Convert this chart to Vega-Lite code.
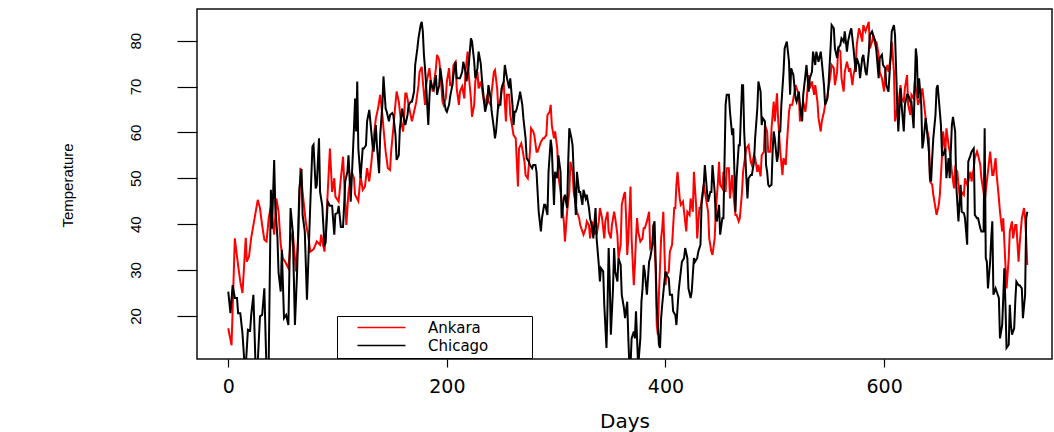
{
"$schema":"https://vega.github.io/schema/vega-lite/v6.json",
"width":855,"height":350,"autosize":"none",
"padding":{"left":197,"top":9,"right":2,"bottom":73},
"background":"white",
"config":{"view":{"stroke":"#111","strokeWidth":1.5},
"legend":{"orient":"none","legendX":140,"legendY":307,"strokeColor":"black","fillColor":"white","padding":4,"symbolType":"M-4,0H4","symbolSize":144,"symbolStrokeWidth":1.3,"symbolOffset":33,"labelOffset":39,"labelFontSize":15,"labelFont":"DejaVu Sans","labelColor":"black","rowPadding":2,"titleOrient":"right","titleFontSize":8,"titlePadding":40}},
"data":{"values":[
{"day":0,"city":"Ankara","temp":17.3},{"day":3,"city":"Ankara","temp":13.6},{"day":6,"city":"Ankara","temp":36.9},{"day":9,"city":"Ankara","temp":31},{"day":11,"city":"Ankara","temp":27.5},{"day":13,"city":"Ankara","temp":25},{"day":16,"city":"Ankara","temp":37},{"day":17,"city":"Ankara","temp":31.8},{"day":19,"city":"Ankara","temp":33},{"day":21,"city":"Ankara","temp":37},{"day":23,"city":"Ankara","temp":39.8},{"day":27,"city":"Ankara","temp":45.3},{"day":29,"city":"Ankara","temp":43.5},{"day":31,"city":"Ankara","temp":39.8},{"day":33,"city":"Ankara","temp":36.6},{"day":35,"city":"Ankara","temp":36.2},{"day":37,"city":"Ankara","temp":41.3},{"day":39,"city":"Ankara","temp":44},{"day":41,"city":"Ankara","temp":39.8},{"day":42,"city":"Ankara","temp":37.7},{"day":44,"city":"Ankara","temp":45.6},{"day":46,"city":"Ankara","temp":42.7},{"day":48,"city":"Ankara","temp":35.5},{"day":50,"city":"Ankara","temp":32.6},{"day":52,"city":"Ankara","temp":31.8},{"day":55,"city":"Ankara","temp":30.4},{"day":57,"city":"Ankara","temp":36.2},{"day":59,"city":"Ankara","temp":38.4},{"day":62,"city":"Ankara","temp":29.7},{"day":64,"city":"Ankara","temp":37},{"day":66,"city":"Ankara","temp":52.3},{"day":68,"city":"Ankara","temp":47},{"day":71,"city":"Ankara","temp":40.3},{"day":73,"city":"Ankara","temp":37.7},{"day":75,"city":"Ankara","temp":34},{"day":78,"city":"Ankara","temp":34.5},{"day":81,"city":"Ankara","temp":36.2},{"day":84,"city":"Ankara","temp":35.5},{"day":85,"city":"Ankara","temp":37.7},{"day":88,"city":"Ankara","temp":34},{"day":89,"city":"Ankara","temp":37},{"day":91,"city":"Ankara","temp":47},{"day":93,"city":"Ankara","temp":56.5},{"day":95,"city":"Ankara","temp":47},{"day":97,"city":"Ankara","temp":50},{"day":98,"city":"Ankara","temp":46},{"day":101,"city":"Ankara","temp":44.9},{"day":103,"city":"Ankara","temp":50},{"day":105,"city":"Ankara","temp":54.7},
{"day":108,"city":"Ankara","temp":39.8},{"day":110,"city":"Ankara","temp":47},{"day":113,"city":"Ankara","temp":51.4},{"day":115,"city":"Ankara","temp":50},{"day":116,"city":"Ankara","temp":46.4},{"day":119,"city":"Ankara","temp":45},{"day":121,"city":"Ankara","temp":50.5},{"day":123,"city":"Ankara","temp":47.5},{"day":125,"city":"Ankara","temp":48.2},{"day":127,"city":"Ankara","temp":52.2},{"day":129,"city":"Ankara","temp":49.3},{"day":131,"city":"Ankara","temp":53.6},{"day":133,"city":"Ankara","temp":58.7},{"day":135,"city":"Ankara","temp":63},{"day":137,"city":"Ankara","temp":65.2},{"day":139,"city":"Ankara","temp":68.2},{"day":141,"city":"Ankara","temp":63.8},{"day":142,"city":"Ankara","temp":60.9},{"day":144,"city":"Ankara","temp":55.8},{"day":146,"city":"Ankara","temp":52.2},{"day":148,"city":"Ankara","temp":51.8},{"day":149,"city":"Ankara","temp":55.8},{"day":151,"city":"Ankara","temp":60.9},{"day":152,"city":"Ankara","temp":63.8},{"day":154,"city":"Ankara","temp":68.9},{"day":156,"city":"Ankara","temp":66.7},{"day":158,"city":"Ankara","temp":62.4},{"day":160,"city":"Ankara","temp":60.2},{"day":162,"city":"Ankara","temp":68.5},{"day":163,"city":"Ankara","temp":68.5},{"day":165,"city":"Ankara","temp":66},{"day":168,"city":"Ankara","temp":62.4},{"day":170,"city":"Ankara","temp":64.5},{"day":172,"city":"Ankara","temp":66.7},{"day":174,"city":"Ankara","temp":70.3},{"day":175,"city":"Ankara","temp":73.2},{"day":177,"city":"Ankara","temp":74.3},{"day":178,"city":"Ankara","temp":71.1},{"day":180,"city":"Ankara","temp":66},{"day":181,"city":"Ankara","temp":70.3},{"day":184,"city":"Ankara","temp":74},{"day":185,"city":"Ankara","temp":71.8},{"day":187,"city":"Ankara","temp":68.9},{"day":188,"city":"Ankara","temp":70.3},{"day":190,"city":"Ankara","temp":74},{"day":191,"city":"Ankara","temp":76.9},{"day":193,"city":"Ankara","temp":75.8},{"day":194,"city":"Ankara","temp":73.2},{"day":196,"city":"Ankara","temp":66.7},{"day":197,"city":"Ankara","temp":66},{"day":199,"city":"Ankara","temp":67.4},{"day":200,"city":"Ankara","temp":71.1},{"day":202,"city":"Ankara","temp":74},{"day":203,"city":"Ankara","temp":70.3},{"day":205,"city":"Ankara","temp":70.3},{"day":206,"city":"Ankara","temp":74.7},{"day":208,"city":"Ankara","temp":75.4},{"day":209,"city":"Ankara","temp":69.6},{"day":211,"city":"Ankara","temp":66},{"day":212,"city":"Ankara","temp":68.9},{"day":214,"city":"Ankara","temp":70},{"day":216,"city":"Ankara","temp":67.4},{"day":217,"city":"Ankara","temp":73.2},{"day":219,"city":"Ankara","temp":77.6},{"day":220,"city":"Ankara","temp":72.5},{"day":222,"city":"Ankara","temp":67.4},{"day":223,"city":"Ankara","temp":63.4},{"day":225,"city":"Ankara","temp":66},{"day":226,"city":"Ankara","temp":71.1},{"day":228,"city":"Ankara","temp":73.2},{"day":229,"city":"Ankara","temp":69.6},{"day":231,"city":"Ankara","temp":71.1},{"day":232,"city":"Ankara","temp":69.6},{"day":234,"city":"Ankara","temp":66.7},
{"day":235,"city":"Ankara","temp":66},{"day":237,"city":"Ankara","temp":68.2},{"day":238,"city":"Ankara","temp":66.7},{"day":240,"city":"Ankara","temp":66},{"day":241,"city":"Ankara","temp":68.9},{"day":243,"city":"Ankara","temp":73.2},{"day":244,"city":"Ankara","temp":73.6},{"day":246,"city":"Ankara","temp":69.6},{"day":247,"city":"Ankara","temp":65.2},{"day":249,"city":"Ankara","temp":67.4},{"day":251,"city":"Ankara","temp":70.3},{"day":252,"city":"Ankara","temp":70.7},{"day":254,"city":"Ankara","temp":62.4},{"day":255,"city":"Ankara","temp":68.2},{"day":257,"city":"Ankara","temp":68.2},{"day":258,"city":"Ankara","temp":63.8},{"day":260,"city":"Ankara","temp":60.9},{"day":261,"city":"Ankara","temp":59.4},{"day":263,"city":"Ankara","temp":58.7},{"day":265,"city":"Ankara","temp":48.2},{"day":266,"city":"Ankara","temp":56.5},{"day":268,"city":"Ankara","temp":57.6},{"day":269,"city":"Ankara","temp":56.5},{"day":271,"city":"Ankara","temp":53.6},{"day":272,"city":"Ankara","temp":50.7},{"day":274,"city":"Ankara","temp":50},{"day":276,"city":"Ankara","temp":55.8},{"day":277,"city":"Ankara","temp":60.9},{"day":279,"city":"Ankara","temp":60.2},{"day":280,"city":"Ankara","temp":59.4},{"day":282,"city":"Ankara","temp":55.8},{"day":283,"city":"Ankara","temp":55.8},{"day":285,"city":"Ankara","temp":57.2},{"day":286,"city":"Ankara","temp":57.9},{"day":288,"city":"Ankara","temp":58.7},{"day":289,"city":"Ankara","temp":58.7},{"day":291,"city":"Ankara","temp":59.4},{"day":292,"city":"Ankara","temp":63.8},{"day":294,"city":"Ankara","temp":64.5},{"day":295,"city":"Ankara","temp":66},{"day":296,"city":"Ankara","temp":61.6},{"day":298,"city":"Ankara","temp":58.7},{"day":299,"city":"Ankara","temp":60.2},{"day":301,"city":"Ankara","temp":56.5},{"day":302,"city":"Ankara","temp":50.7},{"day":304,"city":"Ankara","temp":47},{"day":305,"city":"Ankara","temp":44.9},{"day":307,"city":"Ankara","temp":40.6},{"day":308,"city":"Ankara","temp":36.2},{"day":310,"city":"Ankara","temp":42.7},{"day":312,"city":"Ankara","temp":47},{"day":313,"city":"Ankara","temp":53.6},{"day":315,"city":"Ankara","temp":51.4},{"day":316,"city":"Ankara","temp":47},{"day":318,"city":"Ankara","temp":44.2},{"day":319,"city":"Ankara","temp":42.7},{"day":321,"city":"Ankara","temp":41.3},{"day":322,"city":"Ankara","temp":39.8},{"day":324,"city":"Ankara","temp":38.4},{"day":325,"city":"Ankara","temp":37.7},{"day":327,"city":"Ankara","temp":39.1},{"day":328,"city":"Ankara","temp":40.6},{"day":330,"city":"Ankara","temp":39.8},{"day":331,"city":"Ankara","temp":36.9},{"day":333,"city":"Ankara","temp":40.6},{"day":334,"city":"Ankara","temp":37.7},{"day":336,"city":"Ankara","temp":38.4},{"day":337,"city":"Ankara","temp":37.7},{"day":339,"city":"Ankara","temp":40.6},{"day":340,"city":"Ankara","temp":43.5},{"day":342,"city":"Ankara","temp":41.3},{"day":344,"city":"Ankara","temp":36.9},{"day":345,"city":"Ankara","temp":40.6},{"day":347,"city":"Ankara","temp":42.7},{"day":348,"city":"Ankara","temp":38.4},{"day":350,"city":"Ankara","temp":36.9},{"day":351,"city":"Ankara","temp":39.8},{"day":353,"city":"Ankara","temp":42.7},{"day":354,"city":"Ankara","temp":41.3},{"day":356,"city":"Ankara","temp":37.7},{"day":357,"city":"Ankara","temp":32.6},{"day":359,"city":"Ankara","temp":35.5},{"day":360,"city":"Ankara","temp":44.2},{"day":362,"city":"Ankara","temp":46.4},
{"day":363,"city":"Ankara","temp":47},{"day":364,"city":"Ankara","temp":41.3},{"day":365,"city":"Ankara","temp":33.3},{"day":366,"city":"Ankara","temp":36.9},{"day":367,"city":"Ankara","temp":42.7},{"day":368,"city":"Ankara","temp":48.2},{"day":369,"city":"Ankara","temp":36.9},{"day":371,"city":"Ankara","temp":26.7},{"day":372,"city":"Ankara","temp":31.1},{"day":373,"city":"Ankara","temp":36.9},{"day":374,"city":"Ankara","temp":41.3},{"day":375,"city":"Ankara","temp":38.4},{"day":377,"city":"Ankara","temp":36.2},{"day":379,"city":"Ankara","temp":36.9},{"day":380,"city":"Ankara","temp":39.1},{"day":381,"city":"Ankara","temp":39.1},{"day":383,"city":"Ankara","temp":40.6},{"day":385,"city":"Ankara","temp":42.7},{"day":386,"city":"Ankara","temp":34.8},{"day":388,"city":"Ankara","temp":35.5},{"day":389,"city":"Ankara","temp":39.8},{"day":391,"city":"Ankara","temp":30.4},{"day":392,"city":"Ankara","temp":18},{"day":393,"city":"Ankara","temp":15.9},{"day":394,"city":"Ankara","temp":24.6},{"day":396,"city":"Ankara","temp":36.9},{"day":397,"city":"Ankara","temp":39.1},{"day":398,"city":"Ankara","temp":42.7},{"day":400,"city":"Ankara","temp":26.7},{"day":401,"city":"Ankara","temp":28.9},{"day":403,"city":"Ankara","temp":29.7},{"day":404,"city":"Ankara","temp":34},{"day":406,"city":"Ankara","temp":35.5},{"day":408,"city":"Ankara","temp":43.5},{"day":409,"city":"Ankara","temp":43.5},{"day":410,"city":"Ankara","temp":48.6},{"day":411,"city":"Ankara","temp":51.4},{"day":413,"city":"Ankara","temp":45.6},{"day":414,"city":"Ankara","temp":44.2},{"day":416,"city":"Ankara","temp":44.9},{"day":417,"city":"Ankara","temp":42.7},{"day":419,"city":"Ankara","temp":38.4},{"day":420,"city":"Ankara","temp":42.7},{"day":422,"city":"Ankara","temp":42},{"day":423,"city":"Ankara","temp":45.6},{"day":425,"city":"Ankara","temp":42.7},{"day":426,"city":"Ankara","temp":51.4},{"day":428,"city":"Ankara","temp":44.2},{"day":429,"city":"Ankara","temp":36.9},{"day":431,"city":"Ankara","temp":43.5},{"day":432,"city":"Ankara","temp":43.5},{"day":434,"city":"Ankara","temp":47},{"day":435,"city":"Ankara","temp":48.6},{"day":437,"city":"Ankara","temp":45.6},{"day":439,"city":"Ankara","temp":42.7},{"day":440,"city":"Ankara","temp":36.9},{"day":442,"city":"Ankara","temp":34},{"day":443,"city":"Ankara","temp":33.3},{"day":445,"city":"Ankara","temp":36.9},{"day":446,"city":"Ankara","temp":42.7},{"day":448,"city":"Ankara","temp":49.3},{"day":449,"city":"Ankara","temp":53.6},{"day":450,"city":"Ankara","temp":48.6},{"day":452,"city":"Ankara","temp":47.8},{"day":453,"city":"Ankara","temp":51.4},{"day":455,"city":"Ankara","temp":47},{"day":456,"city":"Ankara","temp":52.2},{"day":458,"city":"Ankara","temp":52.2},{"day":459,"city":"Ankara","temp":45.6},{"day":461,"city":"Ankara","temp":50.7},{"day":462,"city":"Ankara","temp":47},{"day":464,"city":"Ankara","temp":42},{"day":465,"city":"Ankara","temp":42},{"day":467,"city":"Ankara","temp":40.6},{"day":468,"city":"Ankara","temp":41.3},{"day":470,"city":"Ankara","temp":47},{"day":471,"city":"Ankara","temp":51.4},{"day":473,"city":"Ankara","temp":55},{"day":474,"city":"Ankara","temp":56.5},{"day":476,"city":"Ankara","temp":57.2},{"day":478,"city":"Ankara","temp":53.6},{"day":479,"city":"Ankara","temp":52.9},{"day":481,"city":"Ankara","temp":55},{"day":482,"city":"Ankara","temp":54.4},{"day":484,"city":"Ankara","temp":51.4},{"day":485,"city":"Ankara","temp":52.9},{"day":487,"city":"Ankara","temp":50.4},{"day":488,"city":"Ankara","temp":55},
{"day":490,"city":"Ankara","temp":55.8},{"day":491,"city":"Ankara","temp":61.6},{"day":493,"city":"Ankara","temp":60.2},{"day":494,"city":"Ankara","temp":55.8},{"day":496,"city":"Ankara","temp":55.8},{"day":497,"city":"Ankara","temp":60.9},{"day":499,"city":"Ankara","temp":66.7},{"day":500,"city":"Ankara","temp":62.4},{"day":502,"city":"Ankara","temp":68.5},{"day":503,"city":"Ankara","temp":63.1},{"day":505,"city":"Ankara","temp":55.8},{"day":507,"city":"Ankara","temp":50.7},{"day":508,"city":"Ankara","temp":54.4},{"day":510,"city":"Ankara","temp":52.9},{"day":511,"city":"Ankara","temp":57.2},{"day":513,"city":"Ankara","temp":64.5},{"day":514,"city":"Ankara","temp":66},{"day":516,"city":"Ankara","temp":66},{"day":517,"city":"Ankara","temp":67.4},{"day":519,"city":"Ankara","temp":70.3},{"day":520,"city":"Ankara","temp":69.6},{"day":522,"city":"Ankara","temp":68.2},{"day":523,"city":"Ankara","temp":62.4},{"day":525,"city":"Ankara","temp":65.2},{"day":526,"city":"Ankara","temp":66.7},{"day":528,"city":"Ankara","temp":64.5},{"day":529,"city":"Ankara","temp":66.7},{"day":531,"city":"Ankara","temp":72.5},{"day":532,"city":"Ankara","temp":69.6},{"day":534,"city":"Ankara","temp":71.1},{"day":536,"city":"Ankara","temp":68.2},{"day":537,"city":"Ankara","temp":70.3},{"day":539,"city":"Ankara","temp":66.7},{"day":540,"city":"Ankara","temp":63.1},{"day":542,"city":"Ankara","temp":60.2},{"day":543,"city":"Ankara","temp":62.4},{"day":545,"city":"Ankara","temp":64.5},{"day":546,"city":"Ankara","temp":66},{"day":548,"city":"Ankara","temp":67.4},{"day":549,"city":"Ankara","temp":69.6},{"day":551,"city":"Ankara","temp":72.5},{"day":552,"city":"Ankara","temp":74.7},{"day":554,"city":"Ankara","temp":74},{"day":555,"city":"Ankara","temp":70.3},{"day":557,"city":"Ankara","temp":73.2},{"day":558,"city":"Ankara","temp":78.3},{"day":560,"city":"Ankara","temp":77.6},{"day":561,"city":"Ankara","temp":71.8},{"day":563,"city":"Ankara","temp":68.9},{"day":564,"city":"Ankara","temp":73.2},{"day":566,"city":"Ankara","temp":75.4},{"day":568,"city":"Ankara","temp":73.2},{"day":569,"city":"Ankara","temp":74},{"day":571,"city":"Ankara","temp":70.3},{"day":572,"city":"Ankara","temp":72.5},{"day":574,"city":"Ankara","temp":74.7},{"day":575,"city":"Ankara","temp":79.1},{"day":577,"city":"Ankara","temp":82.7},{"day":578,"city":"Ankara","temp":82},{"day":580,"city":"Ankara","temp":79.8},{"day":581,"city":"Ankara","temp":83.4},{"day":583,"city":"Ankara","temp":82},{"day":584,"city":"Ankara","temp":82.7},{"day":586,"city":"Ankara","temp":84.1},{"day":587,"city":"Ankara","temp":78.3},{"day":589,"city":"Ankara","temp":79.8},{"day":590,"city":"Ankara","temp":81.2},{"day":592,"city":"Ankara","temp":79.1},{"day":593,"city":"Ankara","temp":79.8},{"day":595,"city":"Ankara","temp":76.9},{"day":596,"city":"Ankara","temp":73.2},{"day":598,"city":"Ankara","temp":71.8},{"day":600,"city":"Ankara","temp":68.9},{"day":601,"city":"Ankara","temp":73.2},{"day":603,"city":"Ankara","temp":74.7},{"day":604,"city":"Ankara","temp":73.2},{"day":606,"city":"Ankara","temp":76.2},{"day":607,"city":"Ankara","temp":79.8},{"day":609,"city":"Ankara","temp":73.2},{"day":610,"city":"Ankara","temp":62.4},{"day":612,"city":"Ankara","temp":65.2},{"day":613,"city":"Ankara","temp":66},{"day":615,"city":"Ankara","temp":70.3},{"day":616,"city":"Ankara","temp":67.4},{"day":618,"city":"Ankara","temp":66.7},
{"day":619,"city":"Ankara","temp":69.6},{"day":621,"city":"Ankara","temp":72.5},{"day":622,"city":"Ankara","temp":66},{"day":624,"city":"Ankara","temp":63.8},{"day":625,"city":"Ankara","temp":68.2},{"day":627,"city":"Ankara","temp":67.4},{"day":628,"city":"Ankara","temp":71.1},{"day":630,"city":"Ankara","temp":68.2},{"day":631,"city":"Ankara","temp":66},{"day":633,"city":"Ankara","temp":67.4},{"day":635,"city":"Ankara","temp":69.6},{"day":636,"city":"Ankara","temp":67.4},{"day":638,"city":"Ankara","temp":63.1},{"day":639,"city":"Ankara","temp":60.9},{"day":641,"city":"Ankara","temp":58.7},{"day":642,"city":"Ankara","temp":49.3},{"day":644,"city":"Ankara","temp":48.6},{"day":645,"city":"Ankara","temp":46.4},{"day":647,"city":"Ankara","temp":43.5},{"day":648,"city":"Ankara","temp":42},{"day":650,"city":"Ankara","temp":44.2},{"day":651,"city":"Ankara","temp":46.4},{"day":653,"city":"Ankara","temp":55},{"day":654,"city":"Ankara","temp":60.2},{"day":656,"city":"Ankara","temp":55.8},{"day":657,"city":"Ankara","temp":60.9},{"day":659,"city":"Ankara","temp":57.2},{"day":660,"city":"Ankara","temp":55.8},{"day":662,"city":"Ankara","temp":51.4},{"day":664,"city":"Ankara","temp":47.8},{"day":665,"city":"Ankara","temp":52.2},{"day":667,"city":"Ankara","temp":51.4},{"day":668,"city":"Ankara","temp":48.6},{"day":670,"city":"Ankara","temp":44.2},{"day":671,"city":"Ankara","temp":47},{"day":673,"city":"Ankara","temp":46.4},{"day":674,"city":"Ankara","temp":50},{"day":676,"city":"Ankara","temp":48.6},{"day":677,"city":"Ankara","temp":49.3},{"day":679,"city":"Ankara","temp":51.4},{"day":680,"city":"Ankara","temp":49.3},{"day":682,"city":"Ankara","temp":52.2},{"day":683,"city":"Ankara","temp":54.4},{"day":685,"city":"Ankara","temp":55.8},{"day":686,"city":"Ankara","temp":55},{"day":688,"city":"Ankara","temp":52.9},{"day":689,"city":"Ankara","temp":50},{"day":691,"city":"Ankara","temp":47},{"day":692,"city":"Ankara","temp":44.9},{"day":694,"city":"Ankara","temp":49.3},{"day":696,"city":"Ankara","temp":53.6},{"day":697,"city":"Ankara","temp":55.8},{"day":699,"city":"Ankara","temp":50.7},{"day":700,"city":"Ankara","temp":50.7},{"day":702,"city":"Ankara","temp":54.4},{"day":703,"city":"Ankara","temp":50.7},{"day":705,"city":"Ankara","temp":45.6},{"day":706,"city":"Ankara","temp":42.7},{"day":708,"city":"Ankara","temp":38.4},{"day":709,"city":"Ankara","temp":41.3},{"day":711,"city":"Ankara","temp":31.1},{"day":712,"city":"Ankara","temp":26},{"day":714,"city":"Ankara","temp":32.6},{"day":715,"city":"Ankara","temp":38.4},{"day":717,"city":"Ankara","temp":40.6},{"day":718,"city":"Ankara","temp":36.9},{"day":720,"city":"Ankara","temp":39.8},{"day":721,"city":"Ankara","temp":39.8},{"day":723,"city":"Ankara","temp":31.8},{"day":724,"city":"Ankara","temp":35.5},{"day":726,"city":"Ankara","temp":41.3},{"day":728,"city":"Ankara","temp":43.5},{"day":729,"city":"Ankara","temp":41.3},{"day":730,"city":"Ankara","temp":36.9},{"day":731,"city":"Ankara","temp":31.1},
{"day":0,"city":"Chicago","temp":25.3},{"day":2,"city":"Chicago","temp":20.6},{"day":4,"city":"Chicago","temp":26.7},{"day":6,"city":"Chicago","temp":23.9},{"day":8,"city":"Chicago","temp":23.9},{"day":9,"city":"Chicago","temp":20.6},{"day":11,"city":"Chicago","temp":20.6},{"day":13,"city":"Chicago","temp":16.2},{"day":15,"city":"Chicago","temp":9},{"day":16,"city":"Chicago","temp":9},{"day":18,"city":"Chicago","temp":17},{"day":20,"city":"Chicago","temp":16.8},{"day":21,"city":"Chicago","temp":20.2},{"day":23,"city":"Chicago","temp":24.6},{"day":25,"city":"Chicago","temp":9},{"day":27,"city":"Chicago","temp":10},{"day":29,"city":"Chicago","temp":19.9},{"day":31,"city":"Chicago","temp":20.2},{"day":33,"city":"Chicago","temp":26},{"day":35,"city":"Chicago","temp":8},{"day":37,"city":"Chicago","temp":10},{"day":39,"city":"Chicago","temp":47.5},{"day":40,"city":"Chicago","temp":39},{"day":42,"city":"Chicago","temp":54},{"day":43,"city":"Chicago","temp":44},{"day":45,"city":"Chicago","temp":37},{"day":46,"city":"Chicago","temp":29.5},{"day":48,"city":"Chicago","temp":25.3},{"day":49,"city":"Chicago","temp":34.4},{"day":51,"city":"Chicago","temp":19.5},{"day":53,"city":"Chicago","temp":20.2},{"day":55,"city":"Chicago","temp":18},{"day":57,"city":"Chicago","temp":43.5},{"day":59,"city":"Chicago","temp":38.4},{"day":61,"city":"Chicago","temp":18},{"day":63,"city":"Chicago","temp":29.7},{"day":65,"city":"Chicago","temp":47.5},{"day":67,"city":"Chicago","temp":52},{"day":68,"city":"Chicago","temp":42},{"day":70,"city":"Chicago","temp":38.4},{"day":72,"city":"Chicago","temp":23.5},{"day":74,"city":"Chicago","temp":37},{"day":75,"city":"Chicago","temp":44},{"day":77,"city":"Chicago","temp":56.9},{"day":78,"city":"Chicago","temp":57.3},{"day":80,"city":"Chicago","temp":47.8},{"day":81,"city":"Chicago","temp":48.5},{"day":83,"city":"Chicago","temp":58.7},{"day":84,"city":"Chicago","temp":47},{"day":86,"city":"Chicago","temp":44},{"day":88,"city":"Chicago","temp":35.5},{"day":89,"city":"Chicago","temp":35.9},{"day":91,"city":"Chicago","temp":44.9},{"day":93,"city":"Chicago","temp":44},{"day":95,"city":"Chicago","temp":44},{"day":97,"city":"Chicago","temp":37.7},{"day":98,"city":"Chicago","temp":42.2},{"day":100,"city":"Chicago","temp":42.5},{"day":101,"city":"Chicago","temp":44},{"day":103,"city":"Chicago","temp":39.4},{"day":105,"city":"Chicago","temp":39.4},{"day":106,"city":"Chicago","temp":44},
{"day":107,"city":"Chicago","temp":49.3},{"day":109,"city":"Chicago","temp":51.4},{"day":110,"city":"Chicago","temp":55},{"day":112,"city":"Chicago","temp":44.9},{"day":113,"city":"Chicago","temp":50},{"day":115,"city":"Chicago","temp":60.9},{"day":116,"city":"Chicago","temp":67.4},{"day":117,"city":"Chicago","temp":60.2},{"day":118,"city":"Chicago","temp":71.1},{"day":119,"city":"Chicago","temp":56.5},{"day":121,"city":"Chicago","temp":50},{"day":123,"city":"Chicago","temp":56.5},{"day":124,"city":"Chicago","temp":56.5},{"day":126,"city":"Chicago","temp":57.2},{"day":127,"city":"Chicago","temp":62.4},{"day":129,"city":"Chicago","temp":64.9},{"day":130,"city":"Chicago","temp":62.4},{"day":132,"city":"Chicago","temp":57.2},{"day":133,"city":"Chicago","temp":55.8},{"day":135,"city":"Chicago","temp":61.6},{"day":136,"city":"Chicago","temp":57.2},{"day":138,"city":"Chicago","temp":51.1},{"day":139,"city":"Chicago","temp":59.4},{"day":141,"city":"Chicago","temp":66},{"day":142,"city":"Chicago","temp":72.2},{"day":144,"city":"Chicago","temp":65.2},{"day":145,"city":"Chicago","temp":64.5},{"day":147,"city":"Chicago","temp":62.4},{"day":148,"city":"Chicago","temp":63.8},{"day":150,"city":"Chicago","temp":64.2},{"day":151,"city":"Chicago","temp":63.8},{"day":153,"city":"Chicago","temp":59.4},{"day":154,"city":"Chicago","temp":54},{"day":156,"city":"Chicago","temp":55},{"day":157,"city":"Chicago","temp":60.9},{"day":159,"city":"Chicago","temp":65.2},{"day":160,"city":"Chicago","temp":63.8},{"day":162,"city":"Chicago","temp":61.6},{"day":164,"city":"Chicago","temp":63.8},{"day":165,"city":"Chicago","temp":66},{"day":167,"city":"Chicago","temp":66.7},{"day":168,"city":"Chicago","temp":66.7},{"day":170,"city":"Chicago","temp":68.9},{"day":171,"city":"Chicago","temp":74.7},{"day":173,"city":"Chicago","temp":78.3},{"day":174,"city":"Chicago","temp":80.5},{"day":176,"city":"Chicago","temp":83.4},{"day":177,"city":"Chicago","temp":84.1},{"day":178,"city":"Chicago","temp":82},{"day":179,"city":"Chicago","temp":76.9},{"day":180,"city":"Chicago","temp":74},{"day":181,"city":"Chicago","temp":70.3},{"day":182,"city":"Chicago","temp":66},{"day":183,"city":"Chicago","temp":61.6},{"day":184,"city":"Chicago","temp":67.4},{"day":185,"city":"Chicago","temp":71.4},{"day":186,"city":"Chicago","temp":70.3},{"day":188,"city":"Chicago","temp":69.3},{"day":190,"city":"Chicago","temp":72.5},{"day":191,"city":"Chicago","temp":68.2},{"day":193,"city":"Chicago","temp":70.3},{"day":194,"city":"Chicago","temp":74},{"day":196,"city":"Chicago","temp":70.3},{"day":197,"city":"Chicago","temp":67.4},{"day":199,"city":"Chicago","temp":64.9},{"day":200,"city":"Chicago","temp":64.5},{"day":202,"city":"Chicago","temp":66},{"day":203,"city":"Chicago","temp":67.8},{"day":205,"city":"Chicago","temp":70.3},{"day":206,"city":"Chicago","temp":72.5},{"day":208,"city":"Chicago","temp":75.4},{"day":209,"city":"Chicago","temp":71.8},{"day":211,"city":"Chicago","temp":71.8},{"day":212,"city":"Chicago","temp":71.8},{"day":214,"city":"Chicago","temp":73.2},{"day":215,"city":"Chicago","temp":75.4},{"day":217,"city":"Chicago","temp":73.2},{"day":218,"city":"Chicago","temp":71.1},{"day":220,"city":"Chicago","temp":74.7},{"day":222,"city":"Chicago","temp":80.5},{"day":223,"city":"Chicago","temp":79.8},{"day":225,"city":"Chicago","temp":75.4},{"day":226,"city":"Chicago","temp":71.8},{"day":228,"city":"Chicago","temp":74},{"day":229,"city":"Chicago","temp":77.6},{"day":231,"city":"Chicago","temp":75},{"day":232,"city":"Chicago","temp":71.8},{"day":234,"city":"Chicago","temp":66.7},
{"day":235,"city":"Chicago","temp":64.5},{"day":237,"city":"Chicago","temp":66.7},{"day":238,"city":"Chicago","temp":70.3},{"day":240,"city":"Chicago","temp":67.4},{"day":241,"city":"Chicago","temp":64.5},{"day":243,"city":"Chicago","temp":60.9},{"day":244,"city":"Chicago","temp":58.7},{"day":245,"city":"Chicago","temp":60.2},{"day":246,"city":"Chicago","temp":63.1},{"day":247,"city":"Chicago","temp":66},{"day":249,"city":"Chicago","temp":66},{"day":250,"city":"Chicago","temp":69.6},{"day":252,"city":"Chicago","temp":71.1},{"day":253,"city":"Chicago","temp":74.7},{"day":255,"city":"Chicago","temp":71.8},{"day":257,"city":"Chicago","temp":69.6},{"day":258,"city":"Chicago","temp":71.8},{"day":260,"city":"Chicago","temp":66},{"day":261,"city":"Chicago","temp":61.6},{"day":262,"city":"Chicago","temp":64.5},{"day":263,"city":"Chicago","temp":64.5},{"day":264,"city":"Chicago","temp":65.2},{"day":266,"city":"Chicago","temp":67.4},{"day":267,"city":"Chicago","temp":68.9},{"day":269,"city":"Chicago","temp":66},{"day":270,"city":"Chicago","temp":63.1},{"day":272,"city":"Chicago","temp":58.7},{"day":273,"city":"Chicago","temp":54.4},{"day":275,"city":"Chicago","temp":53.6},{"day":276,"city":"Chicago","temp":52.9},{"day":278,"city":"Chicago","temp":52.2},{"day":279,"city":"Chicago","temp":52.9},{"day":281,"city":"Chicago","temp":52.9},{"day":282,"city":"Chicago","temp":51.4},{"day":284,"city":"Chicago","temp":42.7},{"day":286,"city":"Chicago","temp":38.4},{"day":287,"city":"Chicago","temp":41.3},{"day":289,"city":"Chicago","temp":44.2},{"day":290,"city":"Chicago","temp":44.2},{"day":292,"city":"Chicago","temp":42},{"day":293,"city":"Chicago","temp":51.4},{"day":295,"city":"Chicago","temp":58.4},{"day":296,"city":"Chicago","temp":56.5},{"day":298,"city":"Chicago","temp":44.2},{"day":299,"city":"Chicago","temp":51.4},{"day":301,"city":"Chicago","temp":50},{"day":302,"city":"Chicago","temp":55},{"day":304,"city":"Chicago","temp":51.4},{"day":305,"city":"Chicago","temp":41.3},{"day":307,"city":"Chicago","temp":45.6},{"day":308,"city":"Chicago","temp":46.4},{"day":310,"city":"Chicago","temp":43.5},{"day":311,"city":"Chicago","temp":53.6},{"day":312,"city":"Chicago","temp":60.9},{"day":314,"city":"Chicago","temp":58.7},{"day":315,"city":"Chicago","temp":57.2},{"day":316,"city":"Chicago","temp":51.4},{"day":318,"city":"Chicago","temp":42},{"day":319,"city":"Chicago","temp":51.4},{"day":321,"city":"Chicago","temp":47},{"day":322,"city":"Chicago","temp":47},{"day":324,"city":"Chicago","temp":44.2},{"day":325,"city":"Chicago","temp":47.5},{"day":327,"city":"Chicago","temp":45.6},{"day":328,"city":"Chicago","temp":46.4},{"day":330,"city":"Chicago","temp":43.5},{"day":331,"city":"Chicago","temp":41.3},{"day":333,"city":"Chicago","temp":39.1},{"day":334,"city":"Chicago","temp":36.9},{"day":336,"city":"Chicago","temp":43.5},{"day":337,"city":"Chicago","temp":36.9},{"day":339,"city":"Chicago","temp":31.1},{"day":340,"city":"Chicago","temp":27.5},{"day":341,"city":"Chicago","temp":30.4},{"day":343,"city":"Chicago","temp":29.7},{"day":344,"city":"Chicago","temp":22.4},{"day":346,"city":"Chicago","temp":13},{"day":347,"city":"Chicago","temp":22.4},{"day":348,"city":"Chicago","temp":34.8},{"day":349,"city":"Chicago","temp":27.5},{"day":350,"city":"Chicago","temp":15.9},{"day":352,"city":"Chicago","temp":26},{"day":353,"city":"Chicago","temp":34.8},{"day":354,"city":"Chicago","temp":29.7},{"day":356,"city":"Chicago","temp":27.5},{"day":357,"city":"Chicago","temp":32.6},{"day":359,"city":"Chicago","temp":31.1},{"day":360,"city":"Chicago","temp":24.6},{"day":362,"city":"Chicago","temp":21.7},
{"day":363,"city":"Chicago","temp":19.5},{"day":365,"city":"Chicago","temp":23.1},{"day":366,"city":"Chicago","temp":15.1},{"day":367,"city":"Chicago","temp":9},{"day":368,"city":"Chicago","temp":9},{"day":369,"city":"Chicago","temp":15.1},{"day":371,"city":"Chicago","temp":16.6},{"day":372,"city":"Chicago","temp":15.1},{"day":373,"city":"Chicago","temp":21},{"day":374,"city":"Chicago","temp":15.1},{"day":375,"city":"Chicago","temp":9},{"day":377,"city":"Chicago","temp":15.1},{"day":378,"city":"Chicago","temp":23.1},{"day":379,"city":"Chicago","temp":26},{"day":380,"city":"Chicago","temp":31.1},{"day":381,"city":"Chicago","temp":29.7},{"day":383,"city":"Chicago","temp":24.6},{"day":385,"city":"Chicago","temp":31.8},{"day":386,"city":"Chicago","temp":32.6},{"day":388,"city":"Chicago","temp":35.5},{"day":389,"city":"Chicago","temp":39.8},{"day":390,"city":"Chicago","temp":40.6},{"day":391,"city":"Chicago","temp":31.8},{"day":392,"city":"Chicago","temp":22.4},{"day":394,"city":"Chicago","temp":13.7},{"day":395,"city":"Chicago","temp":13},{"day":396,"city":"Chicago","temp":19.5},{"day":397,"city":"Chicago","temp":22.4},{"day":399,"city":"Chicago","temp":27.5},{"day":400,"city":"Chicago","temp":29.7},{"day":401,"city":"Chicago","temp":28.9},{"day":403,"city":"Chicago","temp":28.2},{"day":404,"city":"Chicago","temp":24.6},{"day":406,"city":"Chicago","temp":24.6},{"day":407,"city":"Chicago","temp":21},{"day":409,"city":"Chicago","temp":20.2},{"day":410,"city":"Chicago","temp":18},{"day":412,"city":"Chicago","temp":25.3},{"day":413,"city":"Chicago","temp":27.5},{"day":415,"city":"Chicago","temp":31.8},{"day":417,"city":"Chicago","temp":32.6},{"day":418,"city":"Chicago","temp":34.8},{"day":420,"city":"Chicago","temp":32.6},{"day":421,"city":"Chicago","temp":26},{"day":423,"city":"Chicago","temp":23.9},{"day":424,"city":"Chicago","temp":25.3},{"day":426,"city":"Chicago","temp":32.6},{"day":427,"city":"Chicago","temp":31.8},{"day":429,"city":"Chicago","temp":32.6},{"day":430,"city":"Chicago","temp":34},{"day":432,"city":"Chicago","temp":35.5},{"day":433,"city":"Chicago","temp":44.2},{"day":435,"city":"Chicago","temp":48.6},{"day":436,"city":"Chicago","temp":52.9},{"day":437,"city":"Chicago","temp":50},{"day":438,"city":"Chicago","temp":47},{"day":439,"city":"Chicago","temp":44.9},{"day":441,"city":"Chicago","temp":47},{"day":442,"city":"Chicago","temp":47},{"day":443,"city":"Chicago","temp":52.9},{"day":445,"city":"Chicago","temp":47},{"day":446,"city":"Chicago","temp":41.3},{"day":447,"city":"Chicago","temp":40.6},{"day":449,"city":"Chicago","temp":44.2},{"day":450,"city":"Chicago","temp":37.7},{"day":452,"city":"Chicago","temp":41.3},{"day":453,"city":"Chicago","temp":41.3},{"day":455,"city":"Chicago","temp":66},{"day":456,"city":"Chicago","temp":68.2},{"day":458,"city":"Chicago","temp":68.2},{"day":459,"city":"Chicago","temp":64.5},{"day":461,"city":"Chicago","temp":59.4},{"day":462,"city":"Chicago","temp":60.9},{"day":464,"city":"Chicago","temp":42.7},{"day":465,"city":"Chicago","temp":50},{"day":467,"city":"Chicago","temp":57.2},{"day":468,"city":"Chicago","temp":57.2},{"day":470,"city":"Chicago","temp":70.3},{"day":471,"city":"Chicago","temp":70.3},{"day":472,"city":"Chicago","temp":60.2},{"day":474,"city":"Chicago","temp":50},{"day":475,"city":"Chicago","temp":45.6},{"day":476,"city":"Chicago","temp":50},{"day":478,"city":"Chicago","temp":50.7},{"day":479,"city":"Chicago","temp":50.7},{"day":481,"city":"Chicago","temp":53.6},{"day":482,"city":"Chicago","temp":58.7},{"day":484,"city":"Chicago","temp":65.2},{"day":485,"city":"Chicago","temp":71.1},{"day":487,"city":"Chicago","temp":68.9},{"day":488,"city":"Chicago","temp":61.6},{"day":489,"city":"Chicago","temp":63.1},
{"day":491,"city":"Chicago","temp":62.4},{"day":492,"city":"Chicago","temp":52.9},{"day":493,"city":"Chicago","temp":51.4},{"day":494,"city":"Chicago","temp":48.6},{"day":495,"city":"Chicago","temp":48.2},{"day":497,"city":"Chicago","temp":48.6},{"day":498,"city":"Chicago","temp":55.8},{"day":499,"city":"Chicago","temp":60.2},{"day":500,"city":"Chicago","temp":58.7},{"day":502,"city":"Chicago","temp":53.6},{"day":503,"city":"Chicago","temp":55},{"day":504,"city":"Chicago","temp":60.2},{"day":505,"city":"Chicago","temp":60.2},{"day":506,"city":"Chicago","temp":66},{"day":508,"city":"Chicago","temp":73.2},{"day":509,"city":"Chicago","temp":78.3},{"day":511,"city":"Chicago","temp":79.8},{"day":513,"city":"Chicago","temp":75.4},{"day":514,"city":"Chicago","temp":68.2},{"day":515,"city":"Chicago","temp":74},{"day":516,"city":"Chicago","temp":73.2},{"day":517,"city":"Chicago","temp":72.5},{"day":519,"city":"Chicago","temp":67.4},{"day":520,"city":"Chicago","temp":66.7},{"day":522,"city":"Chicago","temp":68.9},{"day":523,"city":"Chicago","temp":66},{"day":525,"city":"Chicago","temp":62.4},{"day":526,"city":"Chicago","temp":68.2},{"day":528,"city":"Chicago","temp":72.5},{"day":529,"city":"Chicago","temp":74.7},{"day":531,"city":"Chicago","temp":68.9},{"day":532,"city":"Chicago","temp":71.8},{"day":534,"city":"Chicago","temp":73.2},{"day":535,"city":"Chicago","temp":77.6},{"day":537,"city":"Chicago","temp":74.7},{"day":538,"city":"Chicago","temp":77.6},{"day":540,"city":"Chicago","temp":75.4},{"day":542,"city":"Chicago","temp":77.6},{"day":543,"city":"Chicago","temp":75.4},{"day":545,"city":"Chicago","temp":70.3},{"day":546,"city":"Chicago","temp":66},{"day":548,"city":"Chicago","temp":67.4},{"day":549,"city":"Chicago","temp":69.6},{"day":551,"city":"Chicago","temp":78.3},{"day":552,"city":"Chicago","temp":83.4},{"day":554,"city":"Chicago","temp":82.7},{"day":555,"city":"Chicago","temp":78.3},{"day":557,"city":"Chicago","temp":76.2},{"day":558,"city":"Chicago","temp":78.3},{"day":560,"city":"Chicago","temp":79.1},{"day":561,"city":"Chicago","temp":80.5},{"day":563,"city":"Chicago","temp":79.8},{"day":564,"city":"Chicago","temp":82},{"day":566,"city":"Chicago","temp":77.6},{"day":567,"city":"Chicago","temp":79.8},{"day":569,"city":"Chicago","temp":82},{"day":570,"city":"Chicago","temp":82.7},{"day":572,"city":"Chicago","temp":78.3},{"day":574,"city":"Chicago","temp":73.2},{"day":575,"city":"Chicago","temp":76.2},{"day":577,"city":"Chicago","temp":74.7},{"day":578,"city":"Chicago","temp":71.8},{"day":580,"city":"Chicago","temp":76.2},{"day":581,"city":"Chicago","temp":76.9},{"day":583,"city":"Chicago","temp":73.2},{"day":584,"city":"Chicago","temp":72.5},{"day":586,"city":"Chicago","temp":77.6},{"day":587,"city":"Chicago","temp":81.2},{"day":589,"city":"Chicago","temp":82},{"day":590,"city":"Chicago","temp":81.2},{"day":592,"city":"Chicago","temp":79.8},{"day":593,"city":"Chicago","temp":77.6},{"day":595,"city":"Chicago","temp":71.8},{"day":596,"city":"Chicago","temp":76.2},{"day":598,"city":"Chicago","temp":76.9},{"day":599,"city":"Chicago","temp":74.7},{"day":601,"city":"Chicago","temp":74},{"day":602,"city":"Chicago","temp":70.3},{"day":604,"city":"Chicago","temp":68.9},{"day":606,"city":"Chicago","temp":76.9},{"day":607,"city":"Chicago","temp":82},{"day":609,"city":"Chicago","temp":83.4},{"day":610,"city":"Chicago","temp":81.2},{"day":612,"city":"Chicago","temp":66},{"day":613,"city":"Chicago","temp":60.2},{"day":615,"city":"Chicago","temp":69.6},{"day":616,"city":"Chicago","temp":66},{"day":618,"city":"Chicago","temp":60.2},
{"day":619,"city":"Chicago","temp":66},{"day":621,"city":"Chicago","temp":68.2},{"day":622,"city":"Chicago","temp":68.2},{"day":624,"city":"Chicago","temp":66.7},{"day":625,"city":"Chicago","temp":66.7},{"day":627,"city":"Chicago","temp":60.9},{"day":628,"city":"Chicago","temp":69.6},{"day":629,"city":"Chicago","temp":78.3},{"day":630,"city":"Chicago","temp":76.2},{"day":631,"city":"Chicago","temp":67.4},{"day":632,"city":"Chicago","temp":71.8},{"day":634,"city":"Chicago","temp":66},{"day":635,"city":"Chicago","temp":56.5},{"day":636,"city":"Chicago","temp":58},{"day":638,"city":"Chicago","temp":63.1},{"day":639,"city":"Chicago","temp":60.9},{"day":641,"city":"Chicago","temp":55.8},{"day":642,"city":"Chicago","temp":50},{"day":643,"city":"Chicago","temp":49.3},{"day":644,"city":"Chicago","temp":54.4},{"day":645,"city":"Chicago","temp":58.7},{"day":647,"city":"Chicago","temp":63.8},{"day":648,"city":"Chicago","temp":69.6},{"day":649,"city":"Chicago","temp":70.3},{"day":650,"city":"Chicago","temp":67.4},{"day":652,"city":"Chicago","temp":61.6},{"day":653,"city":"Chicago","temp":55},{"day":654,"city":"Chicago","temp":55},{"day":656,"city":"Chicago","temp":56.5},{"day":657,"city":"Chicago","temp":50},{"day":659,"city":"Chicago","temp":54.4},{"day":660,"city":"Chicago","temp":50},{"day":662,"city":"Chicago","temp":61.6},{"day":663,"city":"Chicago","temp":63.4},{"day":665,"city":"Chicago","temp":60.2},{"day":666,"city":"Chicago","temp":48.6},{"day":668,"city":"Chicago","temp":40.6},{"day":670,"city":"Chicago","temp":48.6},{"day":671,"city":"Chicago","temp":42.7},{"day":673,"city":"Chicago","temp":42.4},{"day":674,"city":"Chicago","temp":41.3},{"day":676,"city":"Chicago","temp":35.5},{"day":677,"city":"Chicago","temp":53.6},{"day":679,"city":"Chicago","temp":55},{"day":680,"city":"Chicago","temp":55.8},{"day":682,"city":"Chicago","temp":56.5},{"day":683,"city":"Chicago","temp":42},{"day":685,"city":"Chicago","temp":41.3},{"day":686,"city":"Chicago","temp":41.3},{"day":688,"city":"Chicago","temp":39.1},{"day":689,"city":"Chicago","temp":38.4},{"day":691,"city":"Chicago","temp":38.4},{"day":692,"city":"Chicago","temp":60.9},{"day":693,"city":"Chicago","temp":32.6},{"day":694,"city":"Chicago","temp":31.8},{"day":695,"city":"Chicago","temp":26},{"day":697,"city":"Chicago","temp":31.8},{"day":698,"city":"Chicago","temp":36.9},{"day":699,"city":"Chicago","temp":40.6},{"day":700,"city":"Chicago","temp":24.6},{"day":702,"city":"Chicago","temp":26},{"day":703,"city":"Chicago","temp":25.3},{"day":705,"city":"Chicago","temp":23.9},{"day":706,"city":"Chicago","temp":15.1},{"day":708,"city":"Chicago","temp":18},{"day":709,"city":"Chicago","temp":23.9},{"day":710,"city":"Chicago","temp":30.4},{"day":711,"city":"Chicago","temp":22.4},{"day":712,"city":"Chicago","temp":13},{"day":714,"city":"Chicago","temp":13.7},{"day":715,"city":"Chicago","temp":22.4},{"day":716,"city":"Chicago","temp":18},{"day":717,"city":"Chicago","temp":15.9},{"day":719,"city":"Chicago","temp":17.3},{"day":720,"city":"Chicago","temp":23.1},{"day":721,"city":"Chicago","temp":27.5},{"day":723,"city":"Chicago","temp":26.7},{"day":724,"city":"Chicago","temp":26.7},{"day":726,"city":"Chicago","temp":26},{"day":727,"city":"Chicago","temp":19.5},{"day":729,"city":"Chicago","temp":24.6},{"day":730,"city":"Chicago","temp":41.3},{"day":731,"city":"Chicago","temp":42.7}
]},
"mark":{"type":"line","strokeWidth":2,"clip":true,"interpolate":"linear"},
"encoding":{
"x":{"field":"day","type":"quantitative","scale":{"domain":[-28.6,753.6],"nice":false,"zero":false},
"axis":{"title":"Days","values":[0,200,400,600],"format":"d","domain":false,"grid":false,"tickSize":8,"tickWidth":1.2,"tickColor":"black","labelFont":"DejaVu Sans","labelFontSize":19,"labelColor":"black","labelPadding":10,"titleFont":"DejaVu Sans","titleFontSize":20,"titleFontWeight":"normal","titleColor":"black","titlePadding":15}},
"y":{"field":"temp","type":"quantitative","scale":{"domain":[10.6,86.9],"nice":false,"zero":false},
"axis":{"title":"Temperature","values":[20,30,40,50,60,70,80],"domain":false,"grid":false,"tickSize":20,"tickWidth":1.2,"tickColor":"black","labelFont":"Liberation Sans","labelFontSize":15,"labelColor":"black","labelAngle":270,"labelAlign":"center","labelBaseline":"alphabetic","labelPadding":37,"titleFont":"Liberation Sans","titleFontSize":15,"titleFontWeight":"normal","titleColor":"black","titleAngle":270,"titleAlign":"center","titleBaseline":"alphabetic","titleX":-125,"titleY":176}},
"color":{"field":"city","type":"nominal","scale":{"domain":["Ankara","Chicago"],"range":["#ff0000","#000000"]},"legend":{"title":" "}}
}
}
